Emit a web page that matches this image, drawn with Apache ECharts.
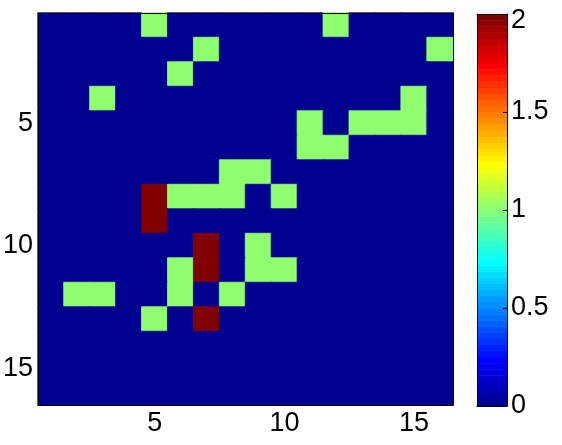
<!DOCTYPE html>
<html>
<head>
<meta charset="utf-8">
<script src="https://cdn.jsdelivr.net/npm/echarts@6/dist/echarts.min.js"></script>
<style>
  html, body { margin: 0; padding: 0; background: #fff; }
  #chart { width: 562px; height: 445px; }
</style>
</head>
<body>
<div id="chart"></div>
<script>
// 16 x 16 matrix, row 1 at the top
const cols = ['1','2','3','4','5','6','7','8','9','10','11','12','13','14','15','16']
const rowLabels = cols
const rows = [
  [0,0,0,0,1,0,0,0,0,0,0,1,0,0,0,0],
  [0,0,0,0,0,0,1,0,0,0,0,0,0,0,0,1],
  [0,0,0,0,0,1,0,0,0,0,0,0,0,0,0,0],
  [0,0,1,0,0,0,0,0,0,0,0,0,0,0,1,0],
  [0,0,0,0,0,0,0,0,0,0,1,0,1,1,1,0],
  [0,0,0,0,0,0,0,0,0,0,1,1,0,0,0,0],
  [0,0,0,0,0,0,0,1,1,0,0,0,0,0,0,0],
  [0,0,0,0,2,1,1,1,0,1,0,0,0,0,0,0],
  [0,0,0,0,2,0,0,0,0,0,0,0,0,0,0,0],
  [0,0,0,0,0,0,2,0,1,0,0,0,0,0,0,0],
  [0,0,0,0,0,1,2,0,1,1,0,0,0,0,0,0],
  [0,1,1,0,0,1,0,1,0,0,0,0,0,0,0,0],
  [0,0,0,0,1,0,2,0,0,0,0,0,0,0,0,0],
  [0,0,0,0,0,0,0,0,0,0,0,0,0,0,0,0],
  [0,0,0,0,0,0,0,0,0,0,0,0,0,0,0,0],
  [0,0,0,0,0,0,0,0,0,0,0,0,0,0,0,0]
]
const cMin = 0
const cMax = 2

// matlab jet(64)
function jet (m) {
  const n = Math.ceil(m / 4)
  const u = []
  for (let i = 1; i <= n; i++) u.push(i / n)
  for (let i = 1; i < n; i++) u.push(1)
  for (let i = n; i >= 1; i--) u.push(i / n)
  const off = Math.ceil(n / 2) - (m % 4 === 1 ? 1 : 0)
  const J = []
  for (let i = 0; i < m; i++) J.push([0, 0, 0])
  u.forEach((v, k) => {
    const g = off + k + 1
    const r = g + n
    const b = g - n
    if (r >= 1 && r <= m) J[r - 1][0] = v
    if (g >= 1 && g <= m) J[g - 1][1] = v
    if (b >= 1 && b <= m) J[b - 1][2] = v
  })
  return J.map(c => 'rgb(' + c.map(x => Math.round(x * 255)).join(',') + ')')
}
const cmap = jet(64)
function colorOf (v) {
  const idx = Math.min(63, Math.floor((v - cMin) / (cMax - cMin) * 64))
  return cmap[idx]
}

// border in the cell's own colour hides the seams between cells
const heatData = []
rows.forEach((r, i) => r.forEach((v, j) => heatData.push({
  value: [j, i, v],
  itemStyle: { borderColor: colorOf(v), borderWidth: 0.8 }
})))
const levels = cmap.map((c, i) => [i])

const font = 'Liberation Sans, Arial, sans-serif'
const showEvery5 = (idx) => (idx + 1) % 5 === 0
const black = { color: '#000', width: 1 }

const chart = echarts.init(document.getElementById('chart'), null, { renderer: 'canvas' })
chart.setOption({
  animation: false,
  backgroundColor: '#fff',
  grid: [
    { left: 35, top: 13, width: 418, height: 392 },
    { left: 477, top: 14, width: 30, height: 392 }
  ],
  xAxis: [
    {
      type: 'category', data: cols, gridIndex: 0, position: 'bottom', z: 10,
      axisLine: { lineStyle: black },
      axisTick: { inside: true, length: 5, alignWithLabel: true, interval: showEvery5, lineStyle: black },
      axisLabel: { interval: showEvery5, color: '#000', fontSize: 27, fontFamily: font, margin: 5 },
      splitLine: { show: false }
    },
    {
      type: 'category', data: cols, gridIndex: 0, position: 'top', z: 10,
      axisLine: { lineStyle: black },
      axisTick: { inside: true, length: 5, alignWithLabel: true, interval: showEvery5, lineStyle: black },
      axisLabel: { show: false }
    },
    {
      type: 'value', gridIndex: 1, min: 0, max: 1, z: 10,
      axisLine: { show: true, onZero: false, lineStyle: black },
      axisTick: { show: false }, axisLabel: { show: false }, splitLine: { show: false }
    },
    {
      type: 'value', gridIndex: 1, min: 0, max: 1, position: 'top', z: 10,
      axisLine: { show: true, onZero: false, lineStyle: black },
      axisTick: { show: false }, axisLabel: { show: false }, splitLine: { show: false }
    }
  ],
  yAxis: [
    {
      type: 'category', data: rowLabels, gridIndex: 0, inverse: true, position: 'left', z: 10,
      axisLine: { lineStyle: black },
      axisTick: { inside: true, length: 5, alignWithLabel: true, interval: showEvery5, lineStyle: black },
      axisLabel: { interval: showEvery5, color: '#000', fontSize: 27, fontFamily: font, margin: 5 },
      splitLine: { show: false }
    },
    {
      type: 'category', data: rowLabels, gridIndex: 0, inverse: true, position: 'right', z: 10,
      axisLine: { lineStyle: black },
      axisTick: { inside: true, length: 5, alignWithLabel: true, interval: showEvery5, lineStyle: black },
      axisLabel: { show: false }
    },
    {
      type: 'value', gridIndex: 1, min: cMin, max: cMax, interval: 0.5, position: 'right', z: 10,
      axisLine: { show: true, onZero: false, lineStyle: black },
      axisTick: { inside: true, length: 4, lineStyle: black },
      axisLabel: {
        color: '#000', fontSize: 27, fontFamily: font, margin: 4,
        // matlab puts the top label a bit below the axis end
        formatter: v => v === cMax ? '{top|' + v + '}' : String(v),
        rich: { top: { fontSize: 27, fontFamily: font, color: '#000', padding: [14, 0, 0, 0] } }
      },
      splitLine: { show: false }
    },
    {
      type: 'value', gridIndex: 1, min: cMin, max: cMax, position: 'left', z: 10,
      axisLine: { show: true, onZero: false, lineStyle: black },
      axisTick: { show: false }, axisLabel: { show: false }, splitLine: { show: false }
    }
  ],
  visualMap: {
    show: false,
    type: 'piecewise',
    seriesIndex: 0,
    pieces: [
      { value: 0, color: colorOf(0) },
      { value: 1, color: colorOf(1) },
      { value: 2, color: colorOf(2) }
    ]
  },
  series: [
    {
      type: 'heatmap',
      xAxisIndex: 0,
      yAxisIndex: 0,
      data: heatData,
      emphasis: { disabled: true }
    },
    {
      // colour bar
      type: 'custom',
      xAxisIndex: 2,
      yAxisIndex: 2,
      data: levels,
      renderItem (params, api) {
        const i = api.value(0)
        const step = (cMax - cMin) / cmap.length
        const p0 = api.coord([0, cMin + i * step])
        const p1 = api.coord([1, cMin + (i + 1) * step])
        return {
          type: 'rect',
          shape: { x: p0[0], y: p1[1], width: p1[0] - p0[0], height: p0[1] - p1[1] + 0.5 },
          style: { fill: cmap[i] }
        }
      }
    }
  ]
})
</script>
</body>
</html>
